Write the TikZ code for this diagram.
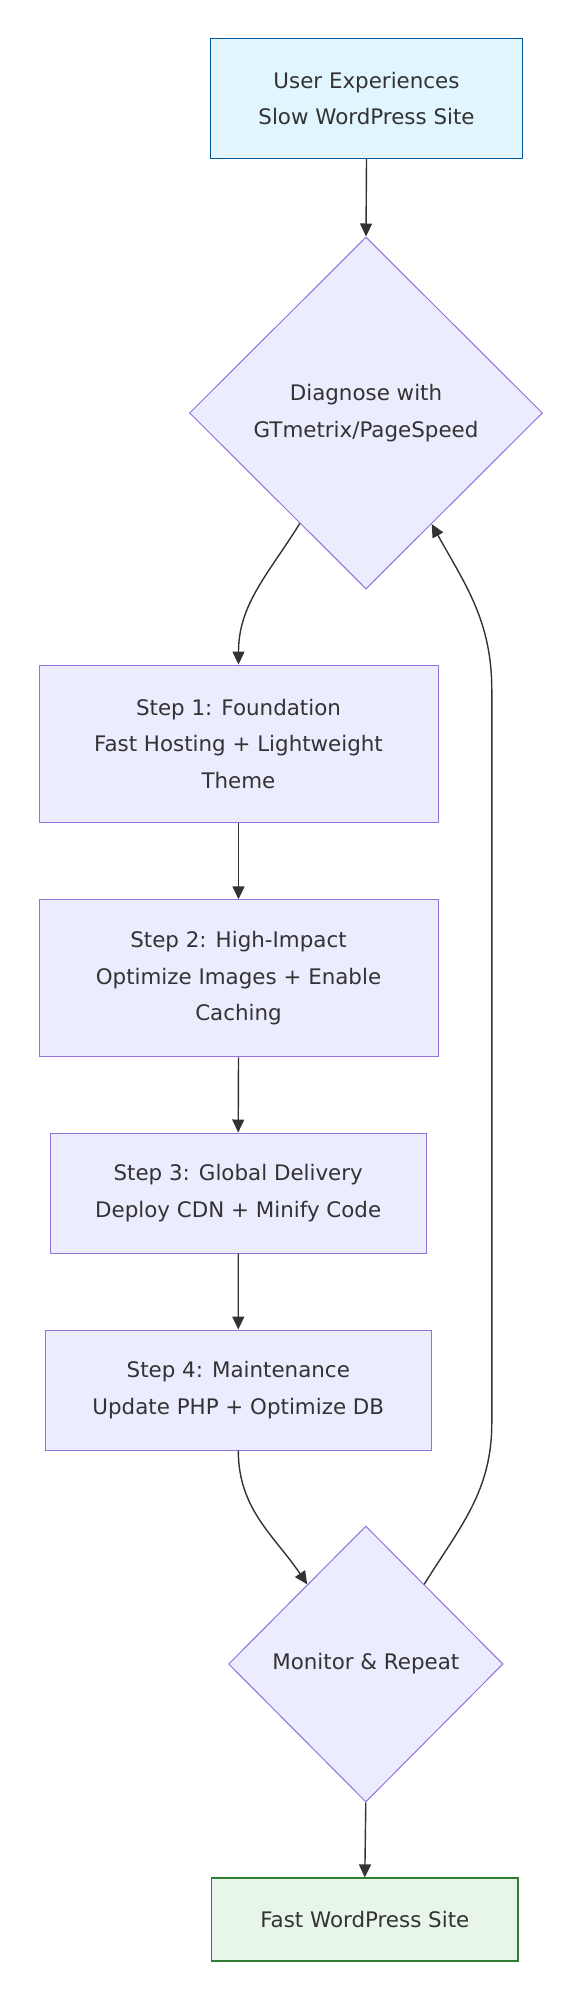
\documentclass[tikz,border=0pt]{standalone}
\usepackage{fontspec}
\setmainfont{DejaVu Sans}
\usepackage{tikz}
\usetikzlibrary{positioning}
\usetikzlibrary{shapes.geometric,arrows.meta}
\usetikzlibrary{calc}

\definecolor{txt}{HTML}{333333}
\definecolor{purplefill}{HTML}{ECECFF}
\definecolor{purpleline}{HTML}{9370DB}
\definecolor{bluefill}{HTML}{E1F5FE}
\definecolor{blueline}{HTML}{01579B}
\definecolor{greenfill}{HTML}{E8F5E9}
\definecolor{greenline}{HTML}{2E7D32}

\begin{document}
\begin{tikzpicture}[x=1pt, y=1pt,
  every node/.style={text=txt, align=center, font=\fontsize{21.4}{36.5}\selectfont},
  stepbox/.style={draw=purpleline, fill=purplefill, line width=1pt, rectangle, inner sep=0pt},
  startbox/.style={draw=blueline, fill=bluefill, line width=1.2pt, rectangle, inner sep=0pt},
  endbox/.style={draw=greenline, fill=greenfill, line width=1.2pt, rectangle, inner sep=0pt},
  decide/.style={draw=purpleline, fill=purplefill, line width=1pt, diamond, aspect=1, inner sep=0pt},
  flow/.style={draw=txt, line width=1.4pt, line join=round, -{Triangle[length=13pt,width=12pt]}}]

 \useasboundingbox (0,0) rectangle (581,-2000);

 %start
 \node[startbox, minimum width=312pt, minimum height=120pt] (user) at (366.5,-98.6) {User Experiences\\Slow WordPress Site};
 \node[decide, minimum width=353pt, minimum height=352pt] (diag) at (366,-413) {Diagnose with\\GTmetrix/PageSpeed};

 %steps
 \node[stepbox, minimum width=399pt, minimum height=157.5pt] (step1) at (238.5,-743.8) {Step 1: Foundation\\Fast Hosting + Lightweight\\Theme};
 \node[stepbox, minimum width=399pt, minimum height=157pt] (step2) at (238.5,-978.3) {Step 2: High-Impact\\Optimize Images + Enable\\Caching};
 \node[stepbox, minimum width=375.6pt, minimum height=120pt] (step3) at (238.2,-1193) {Step 3: Global Delivery\\Deploy CDN + Minify Code};
 \node[stepbox, minimum width=386.5pt, minimum height=120pt] (step4) at (238.3,-1390) {Step 4: Maintenance\\Update PHP + Optimize DB};

 %end
 \node[decide, minimum width=274.5pt, minimum height=276pt] (monitor) at (365.8,-1664) {Monitor \& Repeat};
 \node[endbox, minimum width=306.5pt, minimum height=83pt] (fast) at (364.8,-1919.5) {Fast WordPress Site};

 %arrows
 \draw[flow] (user.south) -- (diag.north);
 \draw[flow] ($(diag.west)!0.626!(diag.south)$) to [out=-122,in=90] (step1.north);
 \draw[flow] (step1.south) -- (step2.north);
 \draw[flow] (step2.south) -- (step3.north);
 \draw[flow] (step3.south) -- (step4.north);
 \draw[flow] (step4.south) to [out=-90,in=124] ($(monitor.west)!0.575!(monitor.north)$);
 \draw[flow] (monitor.south) -- (fast.north);

 %loop back
 \coordinate (backlow) at (491.8,-1423);
 \coordinate (backhigh) at (491.8,-690);
 \draw[flow] ($(monitor.north)!0.424!(monitor.east)$) to [out=58,in=-90] (backlow)
   -- (backhigh) to [out=90,in=-61] ($(diag.east)!0.629!(diag.south)$);

\end{tikzpicture}
\end{document}
